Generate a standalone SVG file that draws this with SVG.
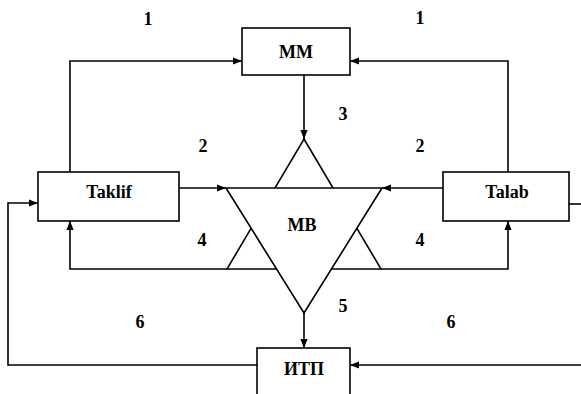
<svg xmlns="http://www.w3.org/2000/svg" width="581" height="394" viewBox="0 0 581 394">
<defs>
<marker id="arr" viewBox="0 0 10 10" refX="10" refY="5" markerWidth="9" markerHeight="9" markerUnits="userSpaceOnUse" orient="auto">
<path d="M0,1 L10,5 L0,9 z" fill="#000"/>
</marker>
<style>
.box{fill:#fff;stroke:#000;stroke-width:1.6}
.tri{stroke:#000;stroke-width:1.6}
.ln{fill:none;stroke:#000;stroke-width:1.6}
.la{fill:none;stroke:#000;stroke-width:1.6;marker-end:url(#arr)}
text{font-family:"Liberation Serif","Times New Roman",serif;font-weight:bold;font-size:18px;text-anchor:middle;fill:#000}
</style>
</defs>
<rect width="581" height="394" fill="#fff"/>
<g id="connectors">
<polyline class="la" points="70,172 70,61 242,61"/>
<polyline class="la" points="508,172 508,61 350,61"/>
<line class="la" x1="304" y1="75" x2="304" y2="139"/>
<line class="la" x1="179" y1="188" x2="226" y2="188"/>
<line class="la" x1="443" y1="188" x2="382" y2="188"/>
<polyline class="la" points="227,269 70,269 70,221"/>
<polyline class="la" points="381,269 508,269 508,221"/>
<line class="la" x1="304" y1="313" x2="304" y2="348"/>
<polyline class="la" points="257,365 8,365 8,203 38,203"/>
<line class="ln" x1="569" y1="204" x2="581" y2="204"/>
<line class="la" x1="581" y1="365" x2="350" y2="365"/>
</g>
<g id="MM">
<rect class="box" x="242" y="28" width="108" height="47"/>
<text x="296" y="58">MM</text>
</g>
<g id="Taklif">
<rect class="box" x="38" y="172" width="141" height="49"/>
<text x="109" y="198">Taklif</text>
</g>
<g id="Talab">
<rect class="box" x="443" y="172" width="126" height="49"/>
<text x="507" y="198">Talab</text>
</g>
<g id="MB">
<polygon class="tri" fill="none" points="304,139 381,269 227,269"/>
<polygon class="tri" fill="#fff" points="226,188 382,188 304,313"/>
<text x="302" y="231">MB</text>
</g>
<g id="ITP">
<rect class="box" x="257" y="348" width="93" height="60"/>
<text x="304" y="375">ИТП</text>
</g>
<g id="labels">
<text x="148" y="25">1</text>
<text x="420" y="24">1</text>
<text x="203" y="152">2</text>
<text x="420" y="152">2</text>
<text x="343" y="120">3</text>
<text x="202" y="246">4</text>
<text x="420" y="246">4</text>
<text x="343" y="312">5</text>
<text x="140" y="328">6</text>
<text x="451" y="328">6</text>
</g>
</svg>
